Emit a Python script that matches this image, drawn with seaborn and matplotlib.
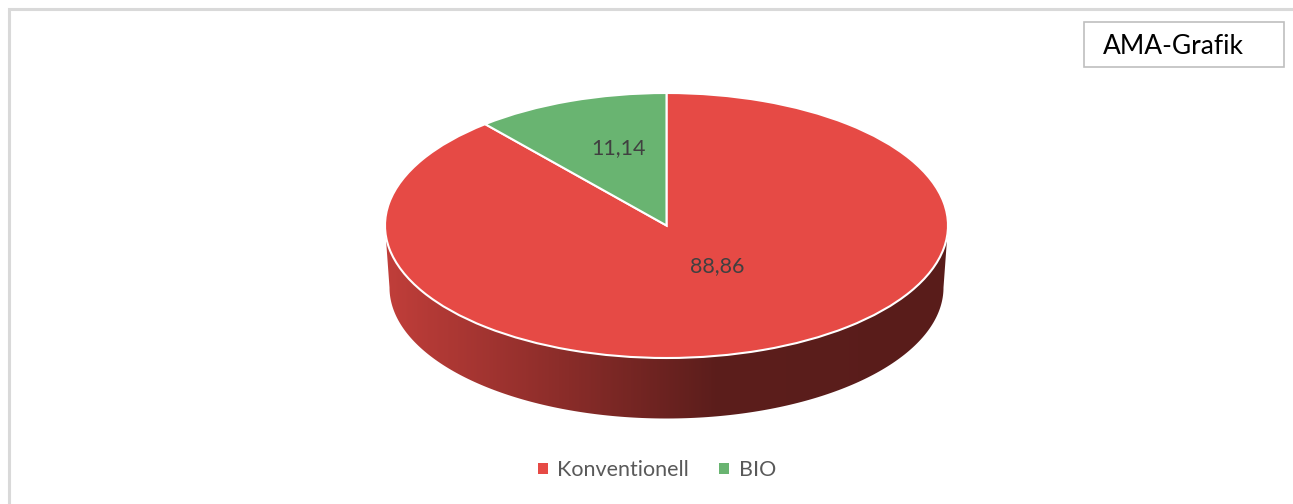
import numpy as np
import seaborn as sns
import matplotlib.pyplot as plt
from matplotlib.colors import LinearSegmentedColormap, to_rgb
from matplotlib.patches import Polygon, Rectangle
from matplotlib.transforms import Affine2D

# Datos
categorias = ['Konventionell', 'BIO']
valores = [88.86, 11.14]
colores = ['#E64A45', '#69B471']
titulo_caja = 'AMA-Grafik'

sns.set_theme(style='white')
plt.rcParams['font.family'] = ['Lato', 'DejaVu Sans']

fig = plt.figure(figsize=(12.93, 5.04), dpi=100)
ax = fig.add_axes([0, 0, 1, 1])

# geometria del pastel 3D (en pixeles)
cx, cy = 666.5, 225.5
a, b = 281.5, 132.5
prof = 62
a2, b2 = 277, 131

elipse = Affine2D().scale(a, -b).translate(cx, cy)

wedges, textos, autotextos = ax.pie(
    valores, colors=colores, startangle=90, counterclock=False,
    labels=None, autopct=lambda p: f'{p:.2f}'.replace('.', ','),
    pctdistance=0.62,
    wedgeprops=dict(edgecolor='white', linewidth=1.5, zorder=3),
    textprops=dict(color='#404040', fontsize=15.5))

for w in wedges:
    w.set_transform(elipse + ax.transData)
for t in autotextos:
    t.set_transform(elipse + ax.transData)
    t.set_zorder(5)
autotextos[0].set_position((0.18, -0.31))
autotextos[1].set_position((-0.17, 0.585))

ax.set_aspect('auto')
ax.set_xlim(0, 1293)
ax.set_ylim(504, 0)
ax.axis('off')

# lado frontal del pastel con degradado
for w, col in zip(wedges, colores):
    t1, t2 = w.theta1, w.theta2
    for off in (0, 360, -360):
        lo = max(t1 + off, 180)
        hi = min(t2 + off, 360)
        if hi <= lo:
            continue
        th = np.radians(np.linspace(lo, hi, 200))
        arriba = np.column_stack([cx + a * np.cos(th), cy - b * np.sin(th)])
        abajo = np.column_stack([cx + a2 * np.cos(th), cy + prof - b2 * np.sin(th)])
        pts = np.vstack([arriba, abajo[::-1]])
        poly = Polygon(pts, closed=True, facecolor='none', edgecolor='none')
        ax.add_patch(poly)
        base = np.array(to_rgb(col))
        cmap = LinearSegmentedColormap.from_list(
            'lado', [base * 0.84, base * 0.62, base * 0.40, base * 0.39],
            N=256)
        grad = np.linspace(0, 1, 400)[None, :]
        grad = np.clip(grad / 0.88, 0, 1)
        im = ax.imshow(grad, cmap=cmap, vmin=0, vmax=1, aspect='auto',
                       extent=[cx - a - 2, cx + a + 2, cy + prof + b + 2, cy - 5],
                       zorder=1, interpolation='bilinear')
        im.set_clip_path(poly)

ax.set_xlim(0, 1293)
ax.set_ylim(504, 0)

# leyenda
leg = ax.legend(wedges, categorias, loc='center', bbox_to_anchor=(657, 470),
                bbox_transform=ax.transData, ncol=2, frameon=False,
                handlelength=0.45, handleheight=0.45, handletextpad=0.45,
                columnspacing=1.4, fontsize=15.5, labelcolor='#595959')
for h in leg.legend_handles:
    h.set_edgecolor('none')

# caja de titulo
ax.add_patch(Rectangle((1084, 22), 200, 45, facecolor='white',
                       edgecolor='#BFBFBF', linewidth=1.2, zorder=4))
ax.text(1103, 46, titulo_caja, fontsize=19, color='black',
        va='center', ha='left', zorder=5)

# borde del grafico
ax.plot([9, 9, 1293], [504, 9, 9], color='#D9D9D9', linewidth=2.2,
        solid_joinstyle='miter', zorder=0)

fig.savefig('out.png', dpi=100)
